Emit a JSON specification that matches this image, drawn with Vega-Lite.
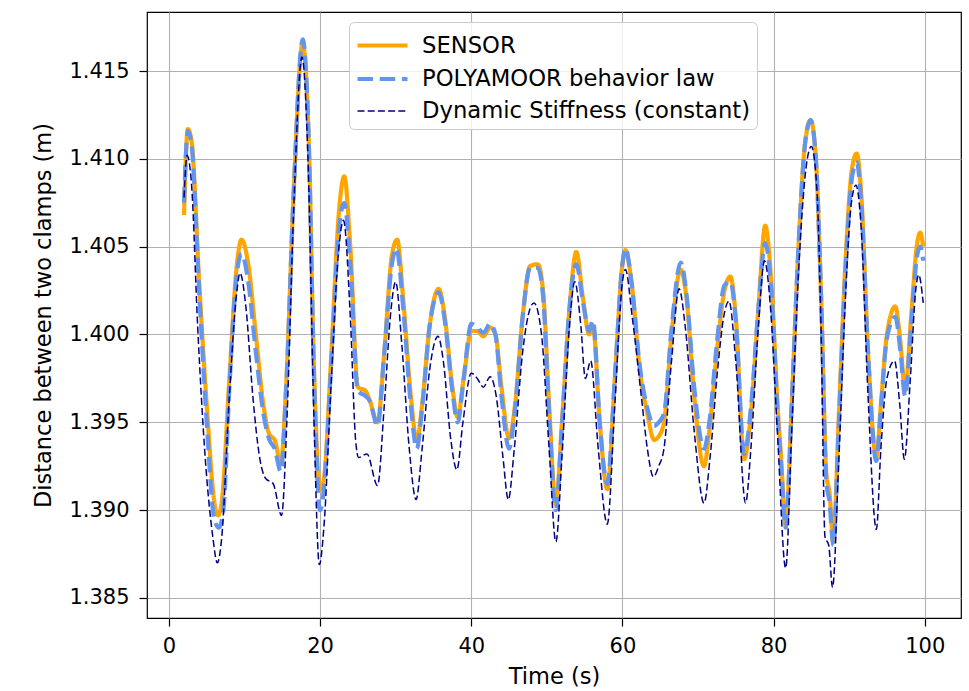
{
  "$schema": "https://vega.github.io/schema/vega-lite/v6.json",
  "width": 814,
  "height": 606,
  "autosize": {"type": "none"},
  "padding": {"left": 147, "top": 12, "right": 8, "bottom": 73},
  "background": "white",
  "config": {
    "font": "DejaVu Sans",
    "view": {"stroke": "black", "strokeWidth": 1.2},
    "axis": {
      "domain": false,
      "grid": true,
      "gridColor": "#b0b0b0",
      "gridWidth": 1.1,
      "ticks": true,
      "tickColor": "black",
      "tickWidth": 1.2,
      "tickSize": 8,
      "labelFont": "DejaVu Sans",
      "labelFontSize": 21,
      "labelColor": "black",
      "titleFont": "DejaVu Sans",
      "titleFontSize": 22.5,
      "titleFontWeight": "normal",
      "titleColor": "black"
    },
    "legend": {
      "orient": "none",
      "legendX": 202,
      "legendY": 10,
      "direction": "vertical",
      "fillColor": "rgba(255,255,255,0.8)",
      "strokeColor": "#cccccc",
      "cornerRadius": 5,
      "padding": 6,
      "labelFont": "DejaVu Sans",
      "labelFontSize": 22.7,
      "labelColor": "black",
      "labelOffset": 32,
      "labelLimit": 600,
      "symbolType": "M-1,0H2.3333",
      "symbolSize": 900,
      "rowPadding": 3.5,
      "title": null
    }
  },
  "datasets": {
    "sensor": [
      {"t":2.0,"v":1.4068,"s":"SENSOR"},{"t":2.5,"v":1.4117,"s":"SENSOR"},{"t":3.0,"v":1.4110,"s":"SENSOR"},{"t":4.0,"v":1.4030,"s":"SENSOR"},{"t":5.0,"v":1.3960,"s":"SENSOR"},{"t":6.0,"v":1.3905,"s":"SENSOR"},{"t":6.5,"v":1.3897,"s":"SENSOR"},{"t":7.0,"v":1.3905,"s":"SENSOR"},{"t":8.0,"v":1.3975,"s":"SENSOR"},{"t":9.0,"v":1.4040,"s":"SENSOR"},{"t":9.6,"v":1.4054,"s":"SENSOR"},{"t":10.5,"v":1.4040,"s":"SENSOR"},{"t":11.5,"v":1.4000,"s":"SENSOR"},{"t":12.5,"v":1.3960,"s":"SENSOR"},{"t":13.3,"v":1.3943,"s":"SENSOR"},{"t":14.0,"v":1.3940,"s":"SENSOR"},{"t":14.8,"v":1.3926,"s":"SENSOR"},{"t":15.5,"v":1.3970,"s":"SENSOR"},{"t":16.5,"v":1.4080,"s":"SENSOR"},{"t":17.7,"v":1.4166,"s":"SENSOR"},{"t":18.5,"v":1.4110,"s":"SENSOR"},{"t":19.2,"v":1.3980,"s":"SENSOR"},{"t":20.0,"v":1.3912,"s":"SENSOR"},{"t":20.5,"v":1.3918,"s":"SENSOR"},{"t":21.5,"v":1.3990,"s":"SENSOR"},{"t":22.5,"v":1.4070,"s":"SENSOR"},{"t":23.2,"v":1.4090,"s":"SENSOR"},{"t":24.0,"v":1.4050,"s":"SENSOR"},{"t":25.0,"v":1.3970,"s":"SENSOR"},{"t":26.0,"v":1.3968,"s":"SENSOR"},{"t":26.6,"v":1.3962,"s":"SENSOR"},{"t":27.6,"v":1.3950,"s":"SENSOR"},{"t":28.5,"v":1.3990,"s":"SENSOR"},{"t":29.5,"v":1.4045,"s":"SENSOR"},{"t":30.2,"v":1.4054,"s":"SENSOR"},{"t":31.0,"v":1.4020,"s":"SENSOR"},{"t":32.0,"v":1.3965,"s":"SENSOR"},{"t":32.8,"v":1.3940,"s":"SENSOR"},{"t":33.5,"v":1.3960,"s":"SENSOR"},{"t":34.5,"v":1.4005,"s":"SENSOR"},{"t":35.7,"v":1.4026,"s":"SENSOR"},{"t":36.5,"v":1.4010,"s":"SENSOR"},{"t":37.5,"v":1.3970,"s":"SENSOR"},{"t":38.2,"v":1.3953,"s":"SENSOR"},{"t":39.0,"v":1.3975,"s":"SENSOR"},{"t":40.0,"v":1.4002,"s":"SENSOR"},{"t":40.8,"v":1.4002,"s":"SENSOR"},{"t":41.6,"v":1.3999,"s":"SENSOR"},{"t":42.5,"v":1.4004,"s":"SENSOR"},{"t":43.2,"v":1.4000,"s":"SENSOR"},{"t":44.0,"v":1.3970,"s":"SENSOR"},{"t":45.0,"v":1.3941,"s":"SENSOR"},{"t":45.8,"v":1.3960,"s":"SENSOR"},{"t":46.8,"v":1.4010,"s":"SENSOR"},{"t":47.8,"v":1.4039,"s":"SENSOR"},{"t":48.8,"v":1.4040,"s":"SENSOR"},{"t":49.5,"v":1.4025,"s":"SENSOR"},{"t":50.3,"v":1.3960,"s":"SENSOR"},{"t":51.2,"v":1.3903,"s":"SENSOR"},{"t":52.0,"v":1.3950,"s":"SENSOR"},{"t":53.0,"v":1.4015,"s":"SENSOR"},{"t":53.9,"v":1.4047,"s":"SENSOR"},{"t":54.8,"v":1.4020,"s":"SENSOR"},{"t":55.6,"v":1.4000,"s":"SENSOR"},{"t":56.1,"v":1.4005,"s":"SENSOR"},{"t":57.0,"v":1.3950,"s":"SENSOR"},{"t":58.0,"v":1.3912,"s":"SENSOR"},{"t":59.0,"v":1.3975,"s":"SENSOR"},{"t":60.0,"v":1.4040,"s":"SENSOR"},{"t":60.4,"v":1.4048,"s":"SENSOR"},{"t":61.2,"v":1.4030,"s":"SENSOR"},{"t":62.3,"v":1.3980,"s":"SENSOR"},{"t":63.3,"v":1.3955,"s":"SENSOR"},{"t":64.2,"v":1.3940,"s":"SENSOR"},{"t":64.8,"v":1.3942,"s":"SENSOR"},{"t":65.5,"v":1.3950,"s":"SENSOR"},{"t":66.5,"v":1.4000,"s":"SENSOR"},{"t":67.7,"v":1.4037,"s":"SENSOR"},{"t":68.5,"v":1.4020,"s":"SENSOR"},{"t":69.5,"v":1.3965,"s":"SENSOR"},{"t":70.8,"v":1.3925,"s":"SENSOR"},{"t":71.5,"v":1.3945,"s":"SENSOR"},{"t":72.5,"v":1.3990,"s":"SENSOR"},{"t":73.5,"v":1.4025,"s":"SENSOR"},{"t":74.3,"v":1.4033,"s":"SENSOR"},{"t":75.0,"v":1.4010,"s":"SENSOR"},{"t":76.1,"v":1.3929,"s":"SENSOR"},{"t":77.0,"v":1.3955,"s":"SENSOR"},{"t":78.0,"v":1.4015,"s":"SENSOR"},{"t":78.9,"v":1.4062,"s":"SENSOR"},{"t":79.7,"v":1.4030,"s":"SENSOR"},{"t":80.6,"v":1.3955,"s":"SENSOR"},{"t":81.0,"v":1.3930,"s":"SENSOR"},{"t":81.6,"v":1.3891,"s":"SENSOR"},{"t":82.4,"v":1.3960,"s":"SENSOR"},{"t":83.3,"v":1.4050,"s":"SENSOR"},{"t":84.2,"v":1.4110,"s":"SENSOR"},{"t":84.9,"v":1.4122,"s":"SENSOR"},{"t":85.6,"v":1.4100,"s":"SENSOR"},{"t":86.3,"v":1.4020,"s":"SENSOR"},{"t":87.0,"v":1.3920,"s":"SENSOR"},{"t":87.4,"v":1.3910,"s":"SENSOR"},{"t":87.9,"v":1.3882,"s":"SENSOR"},{"t":88.6,"v":1.3950,"s":"SENSOR"},{"t":89.5,"v":1.4040,"s":"SENSOR"},{"t":90.4,"v":1.4095,"s":"SENSOR"},{"t":91.0,"v":1.4103,"s":"SENSOR"},{"t":91.6,"v":1.4080,"s":"SENSOR"},{"t":92.5,"v":1.3990,"s":"SENSOR"},{"t":93.6,"v":1.3930,"s":"SENSOR"},{"t":94.2,"v":1.3960,"s":"SENSOR"},{"t":95.0,"v":1.4000,"s":"SENSOR"},{"t":96.1,"v":1.4016,"s":"SENSOR"},{"t":96.8,"v":1.3995,"s":"SENSOR"},{"t":97.4,"v":1.3968,"s":"SENSOR"},{"t":98.2,"v":1.4010,"s":"SENSOR"},{"t":99.0,"v":1.4052,"s":"SENSOR"},{"t":99.4,"v":1.4058,"s":"SENSOR"},{"t":99.8,"v":1.4050,"s":"SENSOR"}
    ],
    "poly": [
      {"t":2.0,"v":1.4075,"s":"POLYAMOOR behavior law"},{"t":2.5,"v":1.4116,"s":"POLYAMOOR behavior law"},{"t":3.0,"v":1.4108,"s":"POLYAMOOR behavior law"},{"t":4.0,"v":1.4025,"s":"POLYAMOOR behavior law"},{"t":5.0,"v":1.3950,"s":"POLYAMOOR behavior law"},{"t":6.0,"v":1.3895,"s":"POLYAMOOR behavior law"},{"t":6.6,"v":1.3890,"s":"POLYAMOOR behavior law"},{"t":7.2,"v":1.3900,"s":"POLYAMOOR behavior law"},{"t":8.0,"v":1.3970,"s":"POLYAMOOR behavior law"},{"t":9.0,"v":1.4035,"s":"POLYAMOOR behavior law"},{"t":9.6,"v":1.4046,"s":"POLYAMOOR behavior law"},{"t":10.5,"v":1.4030,"s":"POLYAMOOR behavior law"},{"t":11.5,"v":1.3990,"s":"POLYAMOOR behavior law"},{"t":12.5,"v":1.3955,"s":"POLYAMOOR behavior law"},{"t":13.3,"v":1.3940,"s":"POLYAMOOR behavior law"},{"t":14.0,"v":1.3935,"s":"POLYAMOOR behavior law"},{"t":14.8,"v":1.3922,"s":"POLYAMOOR behavior law"},{"t":15.5,"v":1.3968,"s":"POLYAMOOR behavior law"},{"t":16.5,"v":1.4080,"s":"POLYAMOOR behavior law"},{"t":17.7,"v":1.4168,"s":"POLYAMOOR behavior law"},{"t":18.5,"v":1.4110,"s":"POLYAMOOR behavior law"},{"t":19.2,"v":1.3975,"s":"POLYAMOOR behavior law"},{"t":20.0,"v":1.3900,"s":"POLYAMOOR behavior law"},{"t":20.5,"v":1.3912,"s":"POLYAMOOR behavior law"},{"t":21.5,"v":1.3985,"s":"POLYAMOOR behavior law"},{"t":22.5,"v":1.4060,"s":"POLYAMOOR behavior law"},{"t":23.2,"v":1.4075,"s":"POLYAMOOR behavior law"},{"t":24.0,"v":1.4040,"s":"POLYAMOOR behavior law"},{"t":25.0,"v":1.3968,"s":"POLYAMOOR behavior law"},{"t":26.0,"v":1.3965,"s":"POLYAMOOR behavior law"},{"t":26.6,"v":1.3962,"s":"POLYAMOOR behavior law"},{"t":27.6,"v":1.3948,"s":"POLYAMOOR behavior law"},{"t":28.5,"v":1.3990,"s":"POLYAMOOR behavior law"},{"t":29.5,"v":1.4040,"s":"POLYAMOOR behavior law"},{"t":30.1,"v":1.4049,"s":"POLYAMOOR behavior law"},{"t":31.0,"v":1.4015,"s":"POLYAMOOR behavior law"},{"t":32.0,"v":1.3960,"s":"POLYAMOOR behavior law"},{"t":32.8,"v":1.3935,"s":"POLYAMOOR behavior law"},{"t":33.5,"v":1.3958,"s":"POLYAMOOR behavior law"},{"t":34.5,"v":1.4005,"s":"POLYAMOOR behavior law"},{"t":35.7,"v":1.4024,"s":"POLYAMOOR behavior law"},{"t":36.5,"v":1.4008,"s":"POLYAMOOR behavior law"},{"t":37.5,"v":1.3968,"s":"POLYAMOOR behavior law"},{"t":38.2,"v":1.3950,"s":"POLYAMOOR behavior law"},{"t":39.0,"v":1.3975,"s":"POLYAMOOR behavior law"},{"t":40.0,"v":1.4006,"s":"POLYAMOOR behavior law"},{"t":40.8,"v":1.4004,"s":"POLYAMOOR behavior law"},{"t":41.6,"v":1.4001,"s":"POLYAMOOR behavior law"},{"t":42.5,"v":1.4006,"s":"POLYAMOOR behavior law"},{"t":43.2,"v":1.4000,"s":"POLYAMOOR behavior law"},{"t":44.0,"v":1.3965,"s":"POLYAMOOR behavior law"},{"t":45.0,"v":1.3935,"s":"POLYAMOOR behavior law"},{"t":45.8,"v":1.3958,"s":"POLYAMOOR behavior law"},{"t":46.8,"v":1.4010,"s":"POLYAMOOR behavior law"},{"t":47.8,"v":1.4038,"s":"POLYAMOOR behavior law"},{"t":48.8,"v":1.4038,"s":"POLYAMOOR behavior law"},{"t":49.5,"v":1.4022,"s":"POLYAMOOR behavior law"},{"t":50.3,"v":1.3955,"s":"POLYAMOOR behavior law"},{"t":51.2,"v":1.3900,"s":"POLYAMOOR behavior law"},{"t":52.0,"v":1.3948,"s":"POLYAMOOR behavior law"},{"t":53.0,"v":1.4015,"s":"POLYAMOOR behavior law"},{"t":53.9,"v":1.4040,"s":"POLYAMOOR behavior law"},{"t":54.8,"v":1.4018,"s":"POLYAMOOR behavior law"},{"t":55.6,"v":1.4002,"s":"POLYAMOOR behavior law"},{"t":56.1,"v":1.4008,"s":"POLYAMOOR behavior law"},{"t":57.0,"v":1.3950,"s":"POLYAMOOR behavior law"},{"t":58.0,"v":1.3915,"s":"POLYAMOOR behavior law"},{"t":59.0,"v":1.3975,"s":"POLYAMOOR behavior law"},{"t":60.0,"v":1.4040,"s":"POLYAMOOR behavior law"},{"t":60.4,"v":1.4049,"s":"POLYAMOOR behavior law"},{"t":61.2,"v":1.4030,"s":"POLYAMOOR behavior law"},{"t":62.3,"v":1.3982,"s":"POLYAMOOR behavior law"},{"t":63.3,"v":1.3958,"s":"POLYAMOOR behavior law"},{"t":64.2,"v":1.3948,"s":"POLYAMOOR behavior law"},{"t":64.8,"v":1.3950,"s":"POLYAMOOR behavior law"},{"t":65.5,"v":1.3955,"s":"POLYAMOOR behavior law"},{"t":66.5,"v":1.4003,"s":"POLYAMOOR behavior law"},{"t":67.7,"v":1.4041,"s":"POLYAMOOR behavior law"},{"t":68.5,"v":1.4022,"s":"POLYAMOOR behavior law"},{"t":69.5,"v":1.3970,"s":"POLYAMOOR behavior law"},{"t":70.8,"v":1.3935,"s":"POLYAMOOR behavior law"},{"t":71.5,"v":1.3950,"s":"POLYAMOOR behavior law"},{"t":72.5,"v":1.3995,"s":"POLYAMOOR behavior law"},{"t":73.5,"v":1.4028,"s":"POLYAMOOR behavior law"},{"t":74.3,"v":1.4030,"s":"POLYAMOOR behavior law"},{"t":75.0,"v":1.4008,"s":"POLYAMOOR behavior law"},{"t":76.1,"v":1.3932,"s":"POLYAMOOR behavior law"},{"t":77.0,"v":1.3958,"s":"POLYAMOOR behavior law"},{"t":78.0,"v":1.4015,"s":"POLYAMOOR behavior law"},{"t":78.9,"v":1.4052,"s":"POLYAMOOR behavior law"},{"t":79.7,"v":1.4025,"s":"POLYAMOOR behavior law"},{"t":80.6,"v":1.3950,"s":"POLYAMOOR behavior law"},{"t":81.0,"v":1.3925,"s":"POLYAMOOR behavior law"},{"t":81.6,"v":1.3890,"s":"POLYAMOOR behavior law"},{"t":82.4,"v":1.3960,"s":"POLYAMOOR behavior law"},{"t":83.3,"v":1.4050,"s":"POLYAMOOR behavior law"},{"t":84.2,"v":1.4110,"s":"POLYAMOOR behavior law"},{"t":84.9,"v":1.4122,"s":"POLYAMOOR behavior law"},{"t":85.6,"v":1.4100,"s":"POLYAMOOR behavior law"},{"t":86.3,"v":1.4020,"s":"POLYAMOOR behavior law"},{"t":87.0,"v":1.3915,"s":"POLYAMOOR behavior law"},{"t":87.4,"v":1.3905,"s":"POLYAMOOR behavior law"},{"t":87.9,"v":1.3880,"s":"POLYAMOOR behavior law"},{"t":88.6,"v":1.3945,"s":"POLYAMOOR behavior law"},{"t":89.5,"v":1.4035,"s":"POLYAMOOR behavior law"},{"t":90.4,"v":1.4090,"s":"POLYAMOOR behavior law"},{"t":91.0,"v":1.4098,"s":"POLYAMOOR behavior law"},{"t":91.6,"v":1.4075,"s":"POLYAMOOR behavior law"},{"t":92.5,"v":1.3990,"s":"POLYAMOOR behavior law"},{"t":93.6,"v":1.3928,"s":"POLYAMOOR behavior law"},{"t":94.2,"v":1.3958,"s":"POLYAMOOR behavior law"},{"t":95.0,"v":1.3998,"s":"POLYAMOOR behavior law"},{"t":96.1,"v":1.4010,"s":"POLYAMOOR behavior law"},{"t":96.8,"v":1.3990,"s":"POLYAMOOR behavior law"},{"t":97.4,"v":1.3965,"s":"POLYAMOOR behavior law"},{"t":98.2,"v":1.4005,"s":"POLYAMOOR behavior law"},{"t":99.0,"v":1.4045,"s":"POLYAMOOR behavior law"},{"t":99.4,"v":1.4050,"s":"POLYAMOOR behavior law"},{"t":99.8,"v":1.4042,"s":"POLYAMOOR behavior law"}
    ],
    "dyn": [
      {"t":2.0,"v":1.4078,"s":"Dynamic Stiffness (constant)"},{"t":2.4,"v":1.4102,"s":"Dynamic Stiffness (constant)"},{"t":3.0,"v":1.4085,"s":"Dynamic Stiffness (constant)"},{"t":3.8,"v":1.4005,"s":"Dynamic Stiffness (constant)"},{"t":4.8,"v":1.3930,"s":"Dynamic Stiffness (constant)"},{"t":5.8,"v":1.3885,"s":"Dynamic Stiffness (constant)"},{"t":6.4,"v":1.3870,"s":"Dynamic Stiffness (constant)"},{"t":7.0,"v":1.3885,"s":"Dynamic Stiffness (constant)"},{"t":8.0,"v":1.3965,"s":"Dynamic Stiffness (constant)"},{"t":9.0,"v":1.4025,"s":"Dynamic Stiffness (constant)"},{"t":9.4,"v":1.4035,"s":"Dynamic Stiffness (constant)"},{"t":10.2,"v":1.4015,"s":"Dynamic Stiffness (constant)"},{"t":11.1,"v":1.3965,"s":"Dynamic Stiffness (constant)"},{"t":12.0,"v":1.3930,"s":"Dynamic Stiffness (constant)"},{"t":12.8,"v":1.3918,"s":"Dynamic Stiffness (constant)"},{"t":13.8,"v":1.3915,"s":"Dynamic Stiffness (constant)"},{"t":14.9,"v":1.3897,"s":"Dynamic Stiffness (constant)"},{"t":15.6,"v":1.3950,"s":"Dynamic Stiffness (constant)"},{"t":16.5,"v":1.4070,"s":"Dynamic Stiffness (constant)"},{"t":17.6,"v":1.4158,"s":"Dynamic Stiffness (constant)"},{"t":18.4,"v":1.4100,"s":"Dynamic Stiffness (constant)"},{"t":19.2,"v":1.3950,"s":"Dynamic Stiffness (constant)"},{"t":19.9,"v":1.3869,"s":"Dynamic Stiffness (constant)"},{"t":20.5,"v":1.3890,"s":"Dynamic Stiffness (constant)"},{"t":21.5,"v":1.3975,"s":"Dynamic Stiffness (constant)"},{"t":22.4,"v":1.4045,"s":"Dynamic Stiffness (constant)"},{"t":23.1,"v":1.4065,"s":"Dynamic Stiffness (constant)"},{"t":24.0,"v":1.4010,"s":"Dynamic Stiffness (constant)"},{"t":24.7,"v":1.3940,"s":"Dynamic Stiffness (constant)"},{"t":25.1,"v":1.3930,"s":"Dynamic Stiffness (constant)"},{"t":26.2,"v":1.3932,"s":"Dynamic Stiffness (constant)"},{"t":27.6,"v":1.3914,"s":"Dynamic Stiffness (constant)"},{"t":28.5,"v":1.3960,"s":"Dynamic Stiffness (constant)"},{"t":29.4,"v":1.4015,"s":"Dynamic Stiffness (constant)"},{"t":30.0,"v":1.4030,"s":"Dynamic Stiffness (constant)"},{"t":30.8,"v":1.3995,"s":"Dynamic Stiffness (constant)"},{"t":31.8,"v":1.3935,"s":"Dynamic Stiffness (constant)"},{"t":32.7,"v":1.3906,"s":"Dynamic Stiffness (constant)"},{"t":33.5,"v":1.3935,"s":"Dynamic Stiffness (constant)"},{"t":34.5,"v":1.3980,"s":"Dynamic Stiffness (constant)"},{"t":35.6,"v":1.3999,"s":"Dynamic Stiffness (constant)"},{"t":36.3,"v":1.3985,"s":"Dynamic Stiffness (constant)"},{"t":37.3,"v":1.3940,"s":"Dynamic Stiffness (constant)"},{"t":38.1,"v":1.3923,"s":"Dynamic Stiffness (constant)"},{"t":38.9,"v":1.3950,"s":"Dynamic Stiffness (constant)"},{"t":40.0,"v":1.3978,"s":"Dynamic Stiffness (constant)"},{"t":40.8,"v":1.3975,"s":"Dynamic Stiffness (constant)"},{"t":41.6,"v":1.3970,"s":"Dynamic Stiffness (constant)"},{"t":42.5,"v":1.3976,"s":"Dynamic Stiffness (constant)"},{"t":43.3,"v":1.3965,"s":"Dynamic Stiffness (constant)"},{"t":44.2,"v":1.3930,"s":"Dynamic Stiffness (constant)"},{"t":44.9,"v":1.3906,"s":"Dynamic Stiffness (constant)"},{"t":45.7,"v":1.3935,"s":"Dynamic Stiffness (constant)"},{"t":46.8,"v":1.3990,"s":"Dynamic Stiffness (constant)"},{"t":47.8,"v":1.4015,"s":"Dynamic Stiffness (constant)"},{"t":48.3,"v":1.4018,"s":"Dynamic Stiffness (constant)"},{"t":49.3,"v":1.4000,"s":"Dynamic Stiffness (constant)"},{"t":50.3,"v":1.3935,"s":"Dynamic Stiffness (constant)"},{"t":51.2,"v":1.3882,"s":"Dynamic Stiffness (constant)"},{"t":52.0,"v":1.3930,"s":"Dynamic Stiffness (constant)"},{"t":53.0,"v":1.4005,"s":"Dynamic Stiffness (constant)"},{"t":53.7,"v":1.4030,"s":"Dynamic Stiffness (constant)"},{"t":54.5,"v":1.4005,"s":"Dynamic Stiffness (constant)"},{"t":55.1,"v":1.3975,"s":"Dynamic Stiffness (constant)"},{"t":55.8,"v":1.3985,"s":"Dynamic Stiffness (constant)"},{"t":56.8,"v":1.3935,"s":"Dynamic Stiffness (constant)"},{"t":58.0,"v":1.3892,"s":"Dynamic Stiffness (constant)"},{"t":59.0,"v":1.3960,"s":"Dynamic Stiffness (constant)"},{"t":60.0,"v":1.4030,"s":"Dynamic Stiffness (constant)"},{"t":60.4,"v":1.4037,"s":"Dynamic Stiffness (constant)"},{"t":61.3,"v":1.4010,"s":"Dynamic Stiffness (constant)"},{"t":62.5,"v":1.3965,"s":"Dynamic Stiffness (constant)"},{"t":63.3,"v":1.3935,"s":"Dynamic Stiffness (constant)"},{"t":64.1,"v":1.3919,"s":"Dynamic Stiffness (constant)"},{"t":64.8,"v":1.3925,"s":"Dynamic Stiffness (constant)"},{"t":65.5,"v":1.3935,"s":"Dynamic Stiffness (constant)"},{"t":66.5,"v":1.3985,"s":"Dynamic Stiffness (constant)"},{"t":67.5,"v":1.4026,"s":"Dynamic Stiffness (constant)"},{"t":68.3,"v":1.4005,"s":"Dynamic Stiffness (constant)"},{"t":69.5,"v":1.3945,"s":"Dynamic Stiffness (constant)"},{"t":70.8,"v":1.3904,"s":"Dynamic Stiffness (constant)"},{"t":71.6,"v":1.3930,"s":"Dynamic Stiffness (constant)"},{"t":72.6,"v":1.3980,"s":"Dynamic Stiffness (constant)"},{"t":73.4,"v":1.4010,"s":"Dynamic Stiffness (constant)"},{"t":74.1,"v":1.4019,"s":"Dynamic Stiffness (constant)"},{"t":75.0,"v":1.3985,"s":"Dynamic Stiffness (constant)"},{"t":76.3,"v":1.3904,"s":"Dynamic Stiffness (constant)"},{"t":77.0,"v":1.3935,"s":"Dynamic Stiffness (constant)"},{"t":78.0,"v":1.4005,"s":"Dynamic Stiffness (constant)"},{"t":78.8,"v":1.4042,"s":"Dynamic Stiffness (constant)"},{"t":79.6,"v":1.4015,"s":"Dynamic Stiffness (constant)"},{"t":80.5,"v":1.3945,"s":"Dynamic Stiffness (constant)"},{"t":81.6,"v":1.3867,"s":"Dynamic Stiffness (constant)"},{"t":82.4,"v":1.3945,"s":"Dynamic Stiffness (constant)"},{"t":83.3,"v":1.4035,"s":"Dynamic Stiffness (constant)"},{"t":84.3,"v":1.4095,"s":"Dynamic Stiffness (constant)"},{"t":85.0,"v":1.4107,"s":"Dynamic Stiffness (constant)"},{"t":85.7,"v":1.4085,"s":"Dynamic Stiffness (constant)"},{"t":86.3,"v":1.4000,"s":"Dynamic Stiffness (constant)"},{"t":86.8,"v":1.3885,"s":"Dynamic Stiffness (constant)"},{"t":87.3,"v":1.3880,"s":"Dynamic Stiffness (constant)"},{"t":87.8,"v":1.3856,"s":"Dynamic Stiffness (constant)"},{"t":88.6,"v":1.3925,"s":"Dynamic Stiffness (constant)"},{"t":89.5,"v":1.4020,"s":"Dynamic Stiffness (constant)"},{"t":90.3,"v":1.4075,"s":"Dynamic Stiffness (constant)"},{"t":90.9,"v":1.4085,"s":"Dynamic Stiffness (constant)"},{"t":91.6,"v":1.4060,"s":"Dynamic Stiffness (constant)"},{"t":92.5,"v":1.3965,"s":"Dynamic Stiffness (constant)"},{"t":93.6,"v":1.3889,"s":"Dynamic Stiffness (constant)"},{"t":94.2,"v":1.3935,"s":"Dynamic Stiffness (constant)"},{"t":95.0,"v":1.3975,"s":"Dynamic Stiffness (constant)"},{"t":96.0,"v":1.3985,"s":"Dynamic Stiffness (constant)"},{"t":96.7,"v":1.3960,"s":"Dynamic Stiffness (constant)"},{"t":97.3,"v":1.3929,"s":"Dynamic Stiffness (constant)"},{"t":98.1,"v":1.3975,"s":"Dynamic Stiffness (constant)"},{"t":98.8,"v":1.4025,"s":"Dynamic Stiffness (constant)"},{"t":99.2,"v":1.4034,"s":"Dynamic Stiffness (constant)"},{"t":99.8,"v":1.4018,"s":"Dynamic Stiffness (constant)"}
    ]
  },
  "encoding": {
    "x": {
      "field": "t", "type": "quantitative",
      "scale": {"domain": [-2.9, 104.8], "nice": false, "zero": false},
      "axis": {"title": "Time (s)", "values": [0, 20, 40, 60, 80, 100], "labelPadding": 9, "titlePadding": 9}
    },
    "y": {
      "field": "v", "type": "quantitative",
      "scale": {"domain": [1.38386, 1.41836], "nice": false, "zero": false},
      "axis": {"title": "Distance between two clamps (m)", "values": [1.385, 1.39, 1.395, 1.4, 1.405, 1.41, 1.415], "format": ".3f", "labelPadding": 10, "titlePadding": 13}
    },
    "color": {
      "field": "s", "type": "nominal",
      "scale": {"domain": ["SENSOR", "POLYAMOOR behavior law", "Dynamic Stiffness (constant)"], "range": ["#FFA500", "#6495ED", "#000080"]},
      "legend": {"title": null}
    },
    "strokeDash": {
      "field": "s", "type": "nominal",
      "scale": {"domain": ["SENSOR", "POLYAMOOR behavior law", "Dynamic Stiffness (constant)"], "range": [[1, 0], [15.5, 6.7], [7, 3.2]]},
      "legend": {"title": null}
    },
    "strokeWidth": {
      "field": "s", "type": "nominal",
      "scale": {"type": "ordinal", "domain": ["SENSOR", "POLYAMOOR behavior law", "Dynamic Stiffness (constant)"], "range": [4.2, 4.2, 1.5]},
      "legend": {"title": null}
    }
  },
  "layer": [
    {"data": {"name": "sensor"}, "mark": {"type": "line", "interpolate": "monotone", "strokeJoin": "round"}},
    {"data": {"name": "poly"}, "mark": {"type": "line", "interpolate": "monotone", "strokeJoin": "round"}},
    {"data": {"name": "dyn"}, "mark": {"type": "line", "interpolate": "monotone", "strokeJoin": "round"}}
  ]
}
